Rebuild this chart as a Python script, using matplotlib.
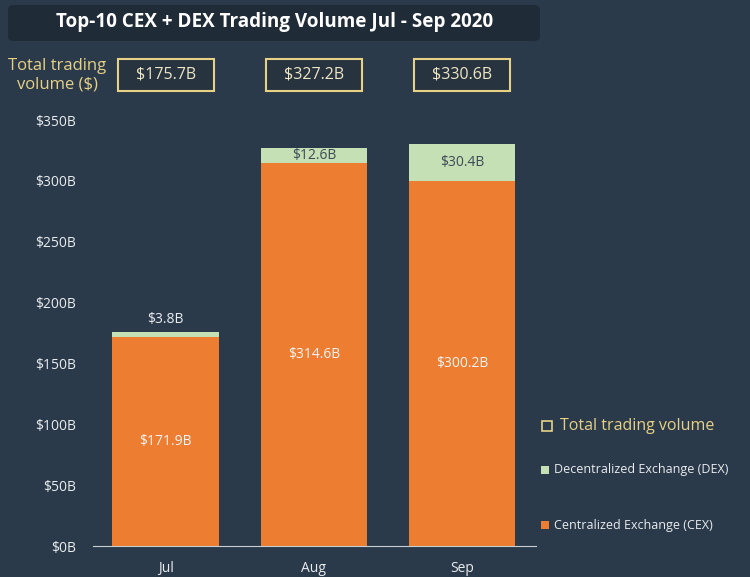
import matplotlib
matplotlib.use('Agg')
import matplotlib.pyplot as plt
from matplotlib.patches import FancyBboxPatch, Rectangle

months = ["Jul", "Aug", "Sep"]
cex = [171.9, 314.6, 300.2]
dex = [3.8, 12.6, 30.4]
totals = [175.7, 327.2, 330.6]
yticks = [0, 50, 100, 150, 200, 250, 300, 350]

BG = '#2b3a4a'
ORANGE = '#ed7d31'
GREEN = '#c5e0b4'
GOLD = '#e6d184'
TXT = '#e9ecef'

plt.rcParams['font.family'] = ['Open Sans', 'DejaVu Sans']

fig = plt.figure(figsize=(7.5, 5.77), dpi=100, facecolor=BG)
ax = fig.add_axes([0.124, 0.0537, 0.591, 0.7383])
ax.set_facecolor(BG)

x = list(range(len(months)))
ax.bar(x, cex, width=0.72, color=ORANGE, zorder=2)
ax.bar(x, dex, width=0.72, bottom=cex, color=GREEN, zorder=2)

ax.set_xlim(-0.49, 2.5)
ax.set_ylim(0, 350)
ax.set_yticks(yticks)
ax.set_yticklabels([f"${v}B" for v in yticks], color=TXT, fontsize=10)
ax.set_xticks(x)
ax.set_xticklabels(months, color=TXT, fontsize=10)
ax.tick_params(axis='y', length=0, pad=12)
ax.tick_params(axis='x', length=0, pad=11)
for s in ['top', 'right', 'left']:
    ax.spines[s].set_visible(False)
ax.spines['bottom'].set_color('#c8ced4')
ax.spines['bottom'].set_linewidth(0.8)

# value labels
for i in x:
    ax.text(i, cex[i] / 2, f"${cex[i]}B", ha='center', va='center', color='#f4f4f4', fontsize=10, zorder=3)
    if dex[i] < 8:
        ax.text(i, cex[i] + dex[i] + 10, f"${dex[i]}B", ha='center', va='center', color=TXT, fontsize=10, zorder=3)
    else:
        ax.text(i, cex[i] + dex[i] / 2, f"${dex[i]}B", ha='center', va='center', color='#3e4a56', fontsize=10, zorder=3)

# title box
W, H = 750, 577
fig.patches.append(FancyBboxPatch((8 / W, 1 - 41 / H), 532 / W, 36 / H,
                                  boxstyle="round,pad=0,rounding_size=0.008",
                                  transform=fig.transFigure, facecolor='#1f2b37', edgecolor='none'))
fig.text(275 / W, 1 - 22 / H, "Top-10 CEX + DEX Trading Volume Jul - Sep 2020",
         ha='center', va='center', color='white', fontsize=13.6, fontweight='bold')

# totals row
fig.text(57 / W, 1 - 75 / H, "Total trading\nvolume ($)", ha='center', va='center',
         color=GOLD, fontsize=12, linespacing=1.2)
for i in x:
    cx = ax.transData.transform((i, 0))[0] / W
    fig.patches.append(Rectangle((cx - 48 / W, 1 - 91 / H), 96 / W, 32 / H,
                                 transform=fig.transFigure, facecolor='#27333f',
                                 edgecolor=GOLD, linewidth=1.5))
    fig.text(cx, 1 - 75 / H, f"${totals[i]}B", ha='center', va='center',
             color='#efe6c4', fontsize=11.5)

# legend
fig.patches.append(Rectangle((542 / W, 1 - 431 / H), 10 / W, 10 / H, transform=fig.transFigure,
                             facecolor='none', edgecolor=GOLD, linewidth=1.2))
fig.text(560 / W, 1 - 426 / H, "Total trading volume", ha='left', va='center', color=GOLD, fontsize=11.5)
fig.patches.append(Rectangle((541 / W, 1 - 474 / H), 8 / W, 8 / H, transform=fig.transFigure,
                             facecolor=GREEN, edgecolor='none'))
fig.text(554 / W, 1 - 470 / H, "Decentralized Exchange (DEX)", ha='left', va='center', color=TXT, fontsize=9)
fig.patches.append(Rectangle((541 / W, 1 - 529 / H), 8 / W, 8 / H, transform=fig.transFigure,
                             facecolor=ORANGE, edgecolor='none'))
fig.text(554 / W, 1 - 525 / H, "Centralized Exchange (CEX)", ha='left', va='center', color=TXT, fontsize=9)

fig.savefig('out.png', dpi=100, facecolor=BG)
